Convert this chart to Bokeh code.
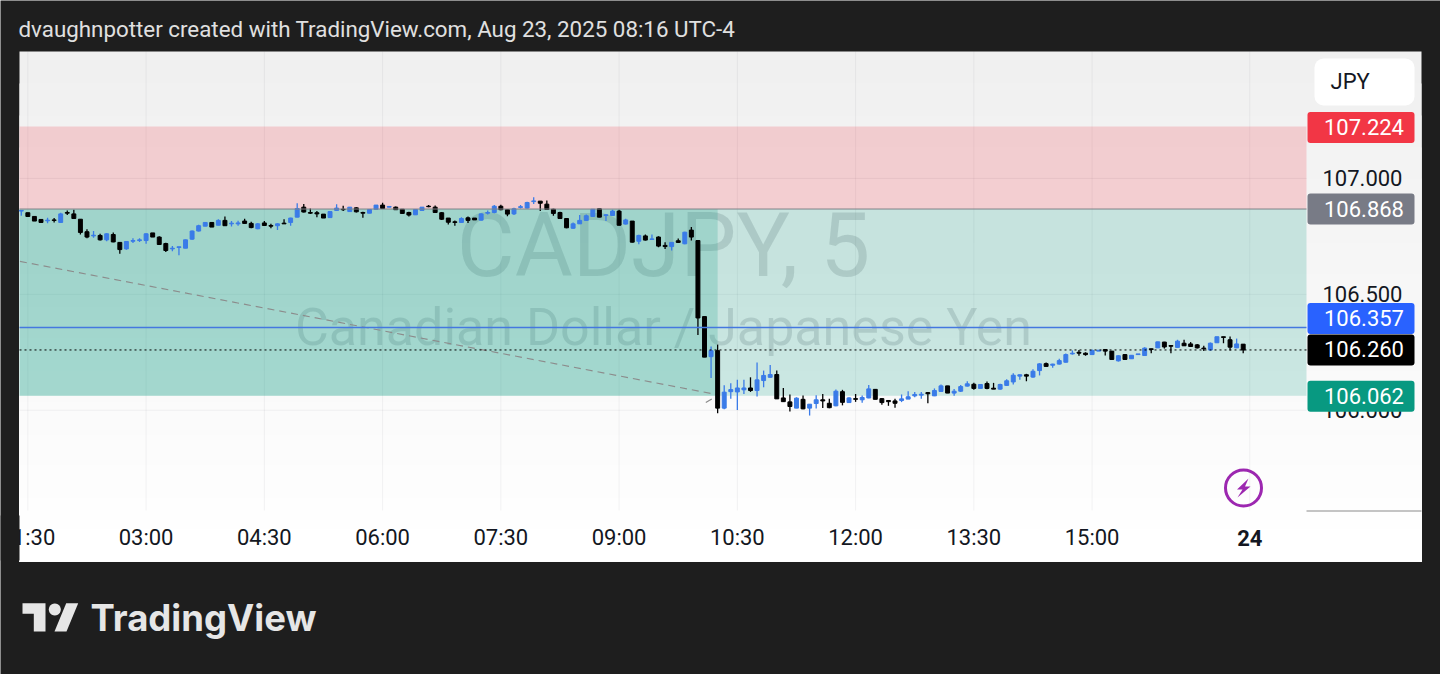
import math
from bokeh.plotting import figure
from bokeh.models import (BoxAnnotation, ColumnDataSource, FixedTicker, Label,
                          PolyAnnotation, Range1d)
from bokeh.embed import file_html
from bokeh.resources import INLINE

# ---- chart values -------------------------------------------------------
times = list(range(85, 1016, 5))  # minutes since midnight, 01:25 to 16:55, 5-minute bars

opens = [
106.859,106.852,106.836,106.823,106.817,106.821,106.810,106.853,106.847,106.824,
106.770,106.752,106.754,106.735,106.758,106.724,106.696,106.729,106.732,106.732,
106.765,106.747,106.719,106.696,106.702,106.699,106.738,106.773,106.794,106.810,
106.798,106.819,106.804,106.804,106.816,106.806,106.783,106.808,106.797,106.796,
106.807,106.810,106.833,106.876,106.853,106.852,106.846,106.831,106.862,106.867,
106.857,106.873,106.853,106.850,106.867,106.885,106.876,106.876,106.867,106.853,
106.843,106.862,106.880,106.876,106.852,106.829,106.813,106.810,106.830,106.829,
106.820,106.850,106.853,106.880,106.865,106.847,106.875,106.872,106.900,106.902,
106.889,106.867,106.853,106.827,106.785,106.804,106.819,106.836,106.869,106.840,
106.840,106.859,106.803,106.816,106.729,106.752,106.737,106.747,106.711,106.706,
106.731,106.718,106.777,106.732,106.404,106.231,106.257,106.009,106.080,106.079,
106.088,106.096,106.085,106.128,106.142,106.154,106.053,106.036,106.009,106.047,
106.009,106.029,106.045,106.030,106.019,106.080,106.033,106.050,106.045,106.053,
106.090,106.050,106.042,106.040,106.042,106.048,106.062,106.065,106.076,106.062,
106.081,106.105,106.074,106.082,106.104,106.112,106.094,106.115,106.095,106.091,
106.107,106.122,106.147,106.153,106.143,106.171,106.201,106.194,106.199,106.207,
106.243,106.250,106.246,106.240,106.255,106.262,106.255,106.213,106.240,106.222,
106.240,106.236,106.265,106.269,106.294,106.279,106.271,106.289,106.286,106.282,
106.268,106.260,106.291,106.317,106.304,106.269,106.285]

highs = [
106.862,106.852,106.836,106.823,106.830,106.829,106.852,106.862,106.865,106.824,
106.781,106.773,106.761,106.764,106.767,106.725,106.729,106.742,106.742,106.764,
106.765,106.750,106.722,106.709,106.705,106.737,106.775,106.800,106.811,106.810,
106.824,106.836,106.816,106.817,106.826,106.813,106.808,106.816,106.804,106.807,
106.824,106.830,106.893,106.890,106.870,106.859,106.846,106.860,106.889,106.882,
106.876,106.876,106.856,106.866,106.885,106.895,106.879,106.879,106.867,106.856,
106.866,106.876,106.885,106.883,106.855,106.829,106.819,106.833,106.836,106.829,
106.850,106.862,106.885,106.886,106.866,106.873,106.885,106.899,106.919,106.902,
106.905,106.869,106.856,106.829,106.810,106.842,106.844,106.867,106.869,106.847,
106.865,106.865,106.826,106.816,106.757,106.758,106.758,106.750,106.725,106.726,
106.741,106.770,106.790,106.732,106.404,106.275,106.283,106.108,106.116,106.132,
106.131,106.142,106.206,106.171,106.195,106.171,106.096,106.068,106.056,106.063,
106.026,106.065,106.070,106.049,106.089,106.088,106.056,106.070,106.063,106.109,
106.090,106.053,106.042,106.049,106.068,106.082,106.079,106.079,106.079,106.094,
106.111,106.105,106.092,106.109,106.125,106.118,106.111,106.124,106.118,106.114,
106.134,106.160,106.154,106.157,106.177,106.203,106.206,106.200,106.222,106.245,
106.258,106.260,106.250,106.262,106.259,106.262,106.255,106.237,106.243,106.237,
106.243,106.272,106.265,106.295,106.295,106.279,106.304,106.304,106.294,106.286,
106.278,106.292,106.317,106.317,106.318,106.309,106.286]

lows = [
106.839,106.836,106.816,106.810,106.807,106.810,106.810,106.842,106.827,106.758,
106.742,106.744,106.732,106.729,106.725,106.675,106.692,106.721,106.726,106.718,
106.747,106.714,106.683,106.686,106.669,106.699,106.735,106.771,106.794,106.790,
106.798,106.796,106.793,106.796,106.806,106.785,106.781,106.797,106.785,106.778,
106.803,106.796,106.833,106.853,106.846,106.833,106.829,106.829,106.860,106.860,
106.857,106.853,106.830,106.850,106.867,106.870,106.876,106.865,106.849,106.836,
106.843,106.862,106.876,106.852,106.821,106.801,106.796,106.808,106.808,106.821,
106.819,106.844,106.850,106.863,106.837,106.842,106.870,106.870,106.890,106.859,
106.865,106.839,106.826,106.785,106.783,106.803,106.816,106.836,106.833,106.816,
106.840,106.797,106.801,106.724,106.716,106.732,106.735,106.703,106.695,106.689,
106.721,106.716,106.732,106.325,106.229,106.139,105.987,106.004,106.050,106.001,
106.070,106.079,106.059,106.099,106.141,106.049,106.036,105.994,106.009,106.004,
105.977,106.007,106.010,106.009,106.017,106.021,106.032,106.036,106.032,106.052,
106.047,106.024,106.019,106.011,106.035,106.048,106.056,106.049,106.030,106.061,
106.079,106.074,106.062,106.079,106.102,106.088,106.094,106.091,106.091,106.088,
106.105,106.111,106.131,106.125,106.140,106.150,106.189,106.183,106.197,106.206,
106.240,106.235,106.235,106.239,106.255,106.236,106.219,106.210,106.217,106.222,
106.240,106.235,106.246,106.269,106.266,106.246,106.269,106.278,106.275,106.266,
106.256,106.258,106.291,106.289,106.258,106.268,106.246]

closes = [
106.862,106.836,106.816,106.810,106.820,106.819,106.847,106.850,106.827,106.767,
106.747,106.755,106.735,106.761,106.726,106.693,106.728,106.732,106.735,106.761,
106.747,106.715,106.689,106.699,106.705,106.735,106.773,106.796,106.810,106.790,
106.819,106.796,106.807,106.808,106.806,106.788,106.804,106.797,106.794,106.804,
106.804,106.829,106.870,106.855,106.850,106.847,106.829,106.857,106.872,106.865,
106.876,106.856,106.850,106.866,106.885,106.870,106.879,106.865,106.849,106.842,
106.866,106.876,106.878,106.853,106.824,106.811,106.810,106.827,106.819,106.821,
106.847,106.853,106.880,106.865,106.846,106.869,106.878,106.896,106.903,106.893,
106.866,106.849,106.827,106.787,106.804,106.819,106.839,106.867,106.833,106.843,
106.859,106.798,106.821,106.725,106.754,106.734,106.739,106.708,106.706,106.724,
106.724,106.768,106.747,106.398,106.229,106.257,106.009,106.078,106.089,106.096,
106.096,106.085,106.131,106.150,106.154,106.049,106.037,106.016,106.052,106.006,
106.026,106.045,106.040,106.011,106.082,106.034,106.053,106.047,106.055,106.092,
106.047,106.033,106.037,106.030,106.049,106.058,106.068,106.069,106.071,106.085,
106.105,106.074,106.082,106.102,106.114,106.094,106.111,106.094,106.091,106.111,
106.127,106.151,106.153,106.147,106.168,106.200,106.189,106.199,106.214,106.240,
106.246,106.246,106.240,106.258,106.259,106.255,106.219,106.235,106.219,106.237,
106.243,106.268,106.262,106.295,106.273,106.276,106.298,106.278,106.275,106.269,
106.265,106.289,106.317,106.314,106.272,106.286,106.260]

price_ticks = [106.0, 106.5, 107.0]
time_ticks = [90, 180, 270, 360, 450, 540, 630, 720, 810, 900, 1020]
time_labels = ["01:30", "03:00", "04:30", "06:00", "07:30", "09:00", "10:30",
               "12:00", "13:30", "15:00", " "]
day_tick = 1020
day_label = "24"

zone_stop = 107.224
zone_entry = 106.868
zone_target = 106.062
zone_split = 615
line_blue = 106.357
last_price = 106.260
trend_times = [84, 614]
trend_prices = [106.642, 106.068]
trend2_times = [606, 612]
trend2_prices = [106.033, 106.054]

badge_prices = [107.224, 106.868, 106.357, 106.260, 106.062]

# ---- page pixel to data helpers ----------------------------------------
PXM = 946 / 720     # pixels per minute
PXP = 231.8         # pixels per price unit
def X(px):
    return 180 + (px - 145.6) / PXM
def Y(py):
    return 107.224 - (py - 126) / PXP
def PY(price):
    return 126 + (107.224 - price) * PXP

W, H = 1440, 674
DARK = "#1e1e1e"
INK = "#131722"
p = figure(width=W, height=H, output_backend="svg", toolbar_location=None,
           x_range=Range1d(X(0), X(W)), y_range=Range1d(Y(H), Y(0)),
           y_axis_location="right", x_axis_location="below",
           min_border_left=0, min_border_right=0, min_border_top=0, min_border_bottom=0,
           border_fill_color=DARK, background_fill_color=DARK, outline_line_color=None)

CANVAS = dict(left_units="canvas", right_units="canvas", top_units="canvas", bottom_units="canvas")

def box(l, r, t, b, color, **kw):
    p.add_layout(BoxAnnotation(left=l, right=r, top=t, bottom=b, fill_color=color, fill_alpha=1,
                               line_color=None, **CANVAS, **kw))

def text(x, y, s, size="22px", color=INK, **kw):
    p.add_layout(Label(x=x, y=y, x_units="canvas", y_units="canvas", text=s, text_font=kw.pop("font", "Roboto"),
                       text_font_size=size, text_color=color, text_baseline="middle", **kw))

def poly(xs, ys, color):
    p.add_layout(PolyAnnotation(xs=xs, ys=ys, xs_units="canvas", ys_units="canvas",
                                fill_color=color, fill_alpha=1, line_color=None))

# gradient panel behind chart and axes: each band runs to the panel bottom, lighter ones over darker
n_bands = 16
for i in range(n_bands):
    g = 0xF0 + i
    box(19, 1421, round(51 + 510 * i / n_bands), 561, f"#{g:02x}{g:02x}{g:02x}", level="image")

# axes, pinned at the edges of the chart area
for ax in (p.xaxis[0], p.yaxis[0]):
    ax.axis_line_color = None
    ax.major_tick_line_color = None
    ax.minor_tick_line_color = None
    ax.major_label_text_font = "Roboto"
    ax.major_label_text_font_size = "22px"
    ax.major_label_text_color = INK
p.xaxis[0].fixed_location = Y(510)
p.yaxis[0].fixed_location = X(1306)
p.xaxis[0].ticker = FixedTicker(ticks=time_ticks)
p.xaxis[0].major_label_overrides = dict(zip(time_ticks, time_labels))
p.xaxis[0].major_label_standoff = 8
p.yaxis[0].ticker = FixedTicker(ticks=price_ticks)
p.yaxis[0].major_label_overrides = {t: f"{t:.3f}" for t in price_ticks}
p.yaxis[0].major_label_standoff = 10
p.xgrid.visible = False
p.ygrid.visible = False

# grid lines limited to the chart area
x0, x1 = X(19), X(1306)
y0, y1 = Y(510), Y(51)
p.segment(time_ticks, [y0] * len(time_ticks), time_ticks, [y1] * len(time_ticks),
          line_color=INK, line_alpha=0.05, line_width=1, level="underlay")
p.segment([x0] * len(price_ticks), price_ticks, [x1] * len(price_ticks), price_ticks,
          line_color=INK, line_alpha=0.05, line_width=1, level="underlay")

# watermark under the zones
for txt, size, py in [("CADJPY, 5", "89px", 245), ("Canadian Dollar / Japanese Yen", "52px", 327)]:
    p.add_layout(Label(x=X(663), y=Y(py), text=txt, text_font="Roboto", text_font_size=size,
                       text_align="center", text_baseline="middle",
                       text_color=INK, text_alpha=0.14, level="underlay"))

# position zones
p.quad(left=[x0], right=[x1], top=[zone_stop], bottom=[zone_entry], fill_color="#F23645", fill_alpha=0.2, line_color=None)
p.quad(left=[x0], right=[x1], top=[zone_entry], bottom=[zone_target], fill_color="#089981", fill_alpha=0.2, line_color=None)
p.quad(left=[x0], right=[zone_split], top=[zone_entry], bottom=[zone_target], fill_color="#089981", fill_alpha=0.2, line_color=None)

# dashed trend lines
p.line(trend_times, trend_prices, line_color="#8c8c8c", line_width=1.2, line_dash="7 5")
p.line(trend2_times, trend2_prices, line_color="#8c8c8c", line_width=1.2, line_dash="7 5")

# candles
UP, DOWN = "#3a7be8", "#000000"
colors = [UP if c >= o else DOWN for o, c in zip(opens, closes)]
src = ColumnDataSource(dict(t=times, o=opens, h=highs, l=lows, c=closes, col=colors,
                            top=[max(a, b) for a, b in zip(opens, closes)],
                            bot=[min(a, b) for a, b in zip(opens, closes)]))
p.segment("t", "h", "t", "l", source=src, line_color="col", line_width=1.3)
p.vbar(x="t", width=3, top="top", bottom="bot", source=src, fill_color="col", line_color="col", line_width=1)

# horizontal level lines
p.segment([x0], [zone_entry], [x1], [zone_entry], line_color="#7e8288", line_width=1)
p.segment([x0], [line_blue], [x1], [line_blue], line_color="#4478e0", line_width=1.4)
p.segment([x0], [last_price], [x1], [last_price], line_color="#000000", line_width=1, line_dash="2 3")

# bolt icon
p.scatter([X(1243)], [Y(487.5)], marker="circle", size=36, fill_alpha=0, line_color="#9c27b0", line_width=3)
poly([1248, 1236.5, 1242, 1237, 1250, 1244.5], [478, 489, 489, 497, 486, 486], "#9c27b0")

# thin rule under price scale
box(1306, 1421, 510, 511, "#8a8a8a")

# JPY button
box(1314, 1414, 58, 105, "#ffffff", border_radius=9)
text(1330, 80.5, "JPY")

# price badges
badge_colors = ["#f23645", "#787b86", "#2962ff", "#000000", "#089981"]
badge_centers = [PY(badge_prices[0]) + 1, PY(badge_prices[1]), 318, PY(badge_prices[3]), PY(badge_prices[4]) + 0.5]
for pr, col, cy in zip(badge_prices, badge_colors, badge_centers):
    box(1307, 1414, cy - 15.5, cy + 15.5, col, border_radius=3)
    text(1323.5, cy - 0.5, f"{pr:.3f}", color="#ffffff")

# bold day label on the time axis
text(145.6 + (day_tick - 180) * PXM, 537, day_label, text_font_style="bold", text_align="center")

# dark bar hiding the clipped part of the first time label
box(0, 19, 515, 560, DARK, level="overlay")

# header text
text(18, 28.5, "dvaughnpotter created with TradingView.com, Aug 23, 2025 08:16 UTC-4", size="22.35px", color="#e0e0e0")

# TradingView logo
LOGO = "#e6e6e6"
poly([22, 45, 45, 33.3, 33.3, 22], [602.7, 602.7, 631, 631, 613.3, 613.3], LOGO)
poly([65.7, 77.7, 66, 54], [602.7, 602.7, 631, 631], LOGO)
poly([54.3 + 6 * math.cos(2 * math.pi * k / 24) for k in range(24)],
     [609 + 6 * math.sin(2 * math.pi * k / 24) for k in range(24)], LOGO)
text(90, 617.5, "TradingView", size="36.5px", color=LOGO, font="Inter", text_font_style="bold")

open("out.html", "w").write(file_html(p, INLINE))
